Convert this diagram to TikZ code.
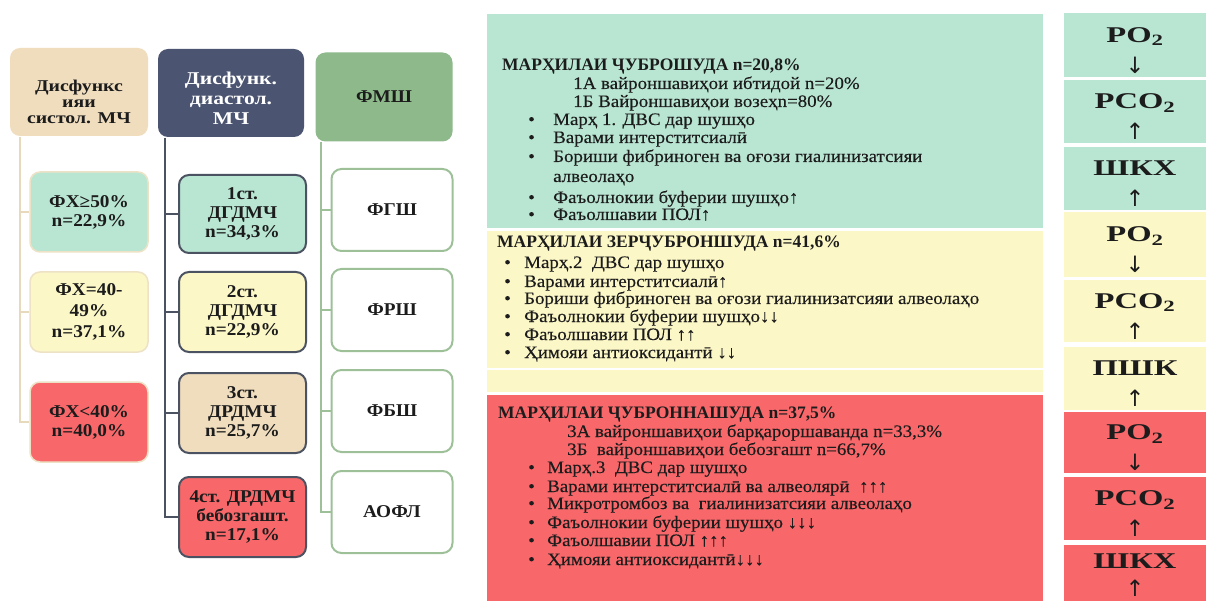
\documentclass[tikz,border=0pt]{standalone}
\usepackage{fontspec}
\setmainfont{Liberation Serif}
\newfontfamily\hdrf{Liberation Serif}[FakeStretch=1.2]
\newfontfamily\boxf{Liberation Serif}[FakeStretch=1.07]
\newfontfamily\bodyf{Liberation Serif}[FakeStretch=1.08, FakeBold=0.25]
\newfontfamily\titf{Liberation Serif}[FakeStretch=1.0]
\newfontfamily\rf{Liberation Serif}[FakeStretch=1.45]
\newfontfamily\arrf{DejaVu Sans}
\definecolor{mint}{HTML}{B9E6D3}
\definecolor{lyel}{HTML}{FCF7C6}
\definecolor{lred}{HTML}{F8686A}
\definecolor{tanc}{HTML}{F0DDBE}
\definecolor{slate}{HTML}{4B5571}
\definecolor{sage}{HTML}{8EB98B}
\definecolor{beige}{HTML}{E6D9BC}
\definecolor{beigeb}{HTML}{EEE2C6}
\definecolor{darkb}{HTML}{4B5362}
\definecolor{sageb}{HTML}{9DC099}
\definecolor{txt}{HTML}{1C1C1C}
\begin{document}
\begin{tikzpicture}[x=1pt,y=-1pt,
  cbox/.style={rounded corners=10pt, align=center, inner sep=0pt, text=txt,
    font=\fontsize{18}{19}\selectfont\boxf\bfseries},
  hbox/.style={cbox, minimum height=88pt},
  abox/.style={cbox, draw=beigeb, line width=1.5pt, minimum width=118pt, minimum height=80pt},
  bbox/.style={cbox, draw=darkb, line width=2pt, minimum width=127pt, minimum height=80pt},
  gbox/.style={cbox, draw=sageb, line width=2pt, fill=white, minimum width=121pt, minimum height=82pt},
  htext/.style={align=center, inner sep=0pt},
  lnA/.style={draw=beige, line width=1.5pt},
  lnB/.style={draw=darkb, line width=2pt},
  lnC/.style={draw=sageb, line width=2pt},
  ptxt/.style={anchor=base west, inner sep=0pt, text=txt, font=\fontsize{17.5}{18}\selectfont\bodyf},
  ptit/.style={ptxt, font=\fontsize{17.5}{18}\selectfont\titf\bfseries},
  bul/.style={ptxt},
  rbox/.style={minimum width=142pt, inner sep=0pt},
  rlab/.style={align=center, inner sep=0pt, text=txt, font=\fontsize{22.5}{31}\selectfont\rf\bfseries}
]
\useasboundingbox (0,0) rectangle (1206,601);
\fill[white] (0,0) rectangle (1206,601);

% ---------- column 1 ----------
\node[hbox, fill=tanc, minimum width=138pt] (h1) at (79,92) {};
\node[htext, text=txt, font=\fontsize{16.5}{15.8}\selectfont\hdrf\bfseries] (h1t) at ([yshift=-10pt]h1.center) {Дисфункс\\ияи\\систол. МЧ};
\node[abox, fill=mint] (a1) at (89,212) {ФХ≥50\%\\n=22,9\%};
\node[abox, fill=lyel, font=\fontsize{18}{21}\selectfont\boxf\bfseries] (a2) at (89,312) {ФХ=40-\\49\%\\n=37,1\%};
\node[abox, fill=lred] (a3) at (89,422) {ФХ<40\%\\n=40,0\%};
\coordinate (v1) at (20,137);
\draw[lnA] (v1) |- (a3.west);
\draw[lnA] (v1 |- a1.west) -- (a1.west);
\draw[lnA] (v1 |- a2.west) -- (a2.west);

% ---------- column 2 ----------
\node[hbox, fill=slate, minimum width=146pt] (h2) at (231,93) {};
\node[htext, text=white, font=\fontsize{18}{20}\selectfont\hdrf\bfseries] (h2t) at ([yshift=-5pt]h2.center) {Дисфунк.\\диастол.\\МЧ};
\node[bbox, fill=mint, minimum height=78pt] (b1) at (242.5,214) {1ст.\\ДГДМЧ\\n=34,3\%};
\node[bbox, fill=lyel] (b2) at (242.5,312) {2ст.\\ДГДМЧ\\n=22,9\%};
\node[bbox, fill=tanc] (b3) at (242.5,413) {3ст.\\ДРДМЧ\\n=25,7\%};
\node[bbox, fill=lred] (b4) at (242.5,517) {4ст. ДРДМЧ\\бебозгашт.\\n=17,1\%};
\coordinate (v2) at (165,138);
\draw[lnB] (v2) |- (b4.west);
\draw[lnB] (v2 |- b1.west) -- (b1.west);
\draw[lnB] (v2 |- b2.west) -- (b2.west);
\draw[lnB] (v2 |- b3.west) -- (b3.west);

% ---------- column 3 ----------
\node[hbox, fill=sage, minimum width=137pt, minimum height=89pt] (h3) at (384,97) {ФМШ};
\node[gbox] (c1) at (392,210) {ФГШ};
\node[gbox] (c2) at (392,310) {ФРШ};
\node[gbox] (c3) at (392,411) {ФБШ};
\node[gbox] (c4) at (392,512) {АОФЛ};
\coordinate (v3) at (321,142);
\draw[lnC] (v3) |- (c4.west);
\draw[lnC] (v3 |- c1.west) -- (c1.west);
\draw[lnC] (v3 |- c2.west) -- (c2.west);
\draw[lnC] (v3 |- c3.west) -- (c3.west);

% ---------- panels ----------
\fill[mint] (487,14) rectangle (1043,228);
\fill[lyel] (487,231) rectangle (1043,367.5);
\fill[lyel] (487,369.5) rectangle (1043,392);
\fill[lred] (487,395) rectangle (1043,601);

% mint panel text
\node[ptit] (m0) at (502,71) {МАРҲИЛАИ ҶУБРОШУДА n=20,8\%};
\node[ptxt] (m1) at (573,89) {1А вайроншавиҳои ибтидой n=20\%};
\node[ptxt] (m2) at (573,107) {1Б Вайроншавиҳои возеҳn=80\%};
\node[bul] (mb3) at (528,125) {•};
\node[ptxt] (m3) at (553,125) {Марҳ 1. ДВС дар шушҳо};
\node[bul] (mb4) at (528,143) {•};
\node[ptxt] (m4) at (553,143) {Варами интерститсиалӣ};
\node[bul] (mb5) at (528,162) {•};
\node[ptxt] (m5) at (553,162) {Бориши фибриноген ва оғози гиалинизатсияи};
\node[ptxt] (m6) at (553,182) {алвеолаҳо};
\node[bul] (mb7) at (528,203) {•};
\node[ptxt] (m7) at (553,203) {Фаъолнокии буферии шушҳо↑};
\node[bul] (mb8) at (528,220) {•};
\node[ptxt] (m8) at (553,220) {Фаъолшавии ПОЛ↑};

% yellow panel text
\node[ptit] (y0) at (497,248) {МАРҲИЛАИ ЗЕРҶУБРОНШУДА n=41,6\%};
\node[bul] (yb1) at (504,268) {•};
\node[ptxt] (y1) at (524,268) {Марҳ.2\ \ ДВС дар шушҳо};
\node[bul] (yb2) at (504,287) {•};
\node[ptxt] (y2) at (524,287) {Варами интерститсиалӣ↑};
\node[bul] (yb3) at (504,304) {•};
\node[ptxt] (y3) at (524,304) {Бориши фибриноген ва оғози гиалинизатсияи алвеолаҳо};
\node[bul] (yb4) at (504,322) {•};
\node[ptxt] (y4) at (524,322) {Фаъолнокии буферии шушҳо↓↓};
\node[bul] (yb5) at (504,340) {•};
\node[ptxt] (y5) at (524,340) {Фаъолшавии ПОЛ ↑↑};
\node[bul] (yb6) at (504,358) {•};
\node[ptxt] (y6) at (524,358) {Ҳимояи антиоксидантӣ ↓↓};

% red panel text
\node[ptit] (q0) at (498,418) {МАРҲИЛАИ ҶУБРОННАШУДА n=37,5\%};
\node[ptxt] (q1) at (567,437) {3А вайроншавиҳои барқароршаванда n=33,3\%};
\node[ptxt] (q2) at (567,455) {3Б\ \ вайроншавиҳои бебозгашт n=66,7\%};
\node[bul] (qb3) at (528,473) {•};
\node[ptxt] (q3) at (547,473) {Марҳ.3\ \ ДВС дар шушҳо};
\node[bul] (qb4) at (528,492) {•};
\node[ptxt] (q4) at (547,492) {Варами интерститсиалӣ ва алвеолярӣ\ \ ↑↑↑};
\node[bul] (qb5) at (528,509) {•};
\node[ptxt] (q5) at (547,509) {Микротромбоз ва\ \ гиалинизатсияи алвеолаҳо};
\node[bul] (qb6) at (528,528) {•};
\node[ptxt] (q6) at (547,528) {Фаъолнокии буферии шушҳо ↓↓↓};
\node[bul] (qb7) at (528,546) {•};
\node[ptxt] (q7) at (547,546) {Фаъолшавии ПОЛ ↑↑↑};
\node[bul] (qb8) at (528,565) {•};
\node[ptxt] (q8) at (547,565) {Ҳимояи антиоксидантӣ↓↓↓};

% ---------- right column ----------
\node[rbox, fill=mint, minimum height=64pt] (r1) at (1135,45) {};
\node[rbox, fill=mint, minimum height=63pt] (r2) at (1135,111.5) {};
\node[rbox, fill=mint, minimum height=63pt] (r3) at (1135,178.5) {};
\node[rbox, fill=lyel, minimum height=65pt] (r4) at (1135,244.5) {};
\node[rbox, fill=lyel, minimum height=62pt] (r5) at (1135,311) {};
\node[rbox, fill=lyel, minimum height=63pt] (r6) at (1135,378.5) {};
\node[rbox, fill=lred, minimum height=61pt] (r7) at (1135,442.5) {};
\node[rbox, fill=lred, minimum height=63pt] (r8) at (1135,508.5) {};
\node[rbox, fill=lred, minimum height=63pt] (r9) at (1135,576) {};
\node[rlab] (r1t) at ([yshift=-5.5pt]r1.center) {PO\textsubscript{2}\\{\arrf\mdseries ↓}};
\node[rlab] (r2t) at ([yshift=-5.5pt]r2.center) {PCO\textsubscript{2}\\{\arrf\mdseries ↑}};
\node[rlab] (r3t) at ([yshift=-5.5pt]r3.center) {ШКХ\\{\arrf\mdseries ↑}};
\node[rlab] (r4t) at ([yshift=-5.5pt]r4.center) {PO\textsubscript{2}\\{\arrf\mdseries ↓}};
\node[rlab] (r5t) at ([yshift=-5.5pt]r5.center) {PCO\textsubscript{2}\\{\arrf\mdseries ↑}};
\node[rlab] (r6t) at ([yshift=-5.5pt]r6.center) {ПШК\\{\arrf\mdseries ↑}};
\node[rlab] (r7t) at ([yshift=-5.5pt]r7.center) {PO\textsubscript{2}\\{\arrf\mdseries ↓}};
\node[rlab] (r8t) at ([yshift=-5.5pt]r8.center) {PCO\textsubscript{2}\\{\arrf\mdseries ↑}};
\node[rlab, font=\fontsize{22.5}{28}\selectfont\rf\bfseries] (r9t) at ([yshift=1pt]r9.center) {ШКХ\\{\arrf\mdseries ↑}};
\end{tikzpicture}
\end{document}
